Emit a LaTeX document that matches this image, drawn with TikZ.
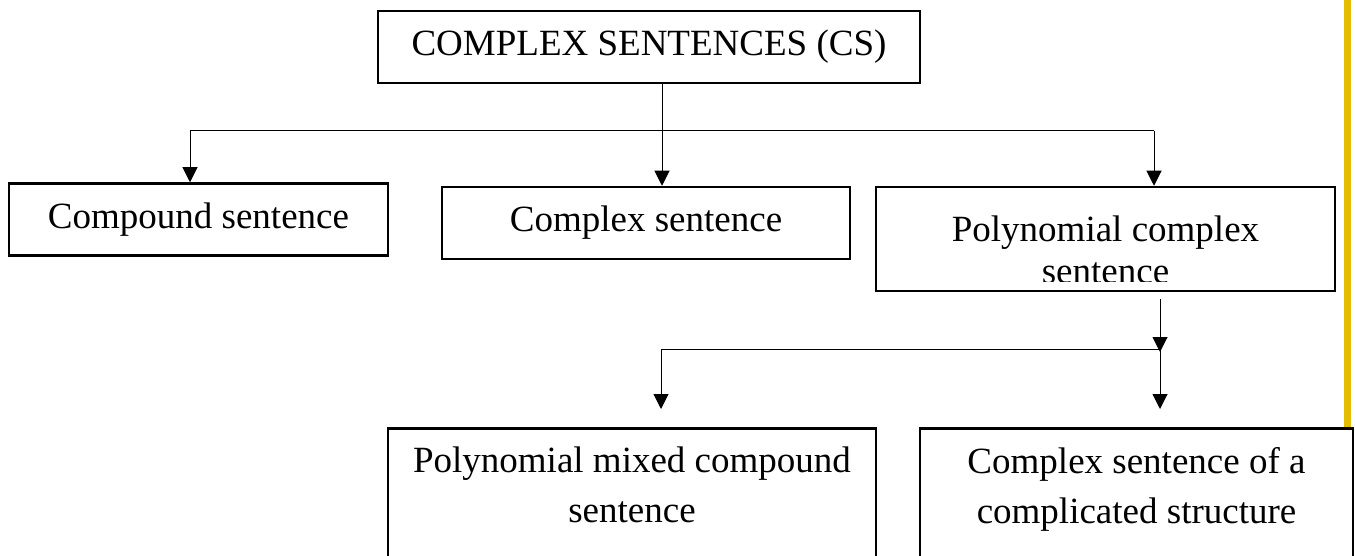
\documentclass[tikz,border=0pt]{standalone}
\usepackage{fontspec}
\setmainfont{Liberation Serif}
\usetikzlibrary{arrows.meta,positioning}
\definecolor{margingold}{RGB}{226,189,0}

\begin{document}
\begin{tikzpicture}[x=1pt,y=-1pt,
    box/.style={draw,line width=2.5pt,inner sep=0pt,minimum height=72pt,
      font=\fontsize{37}{50}\selectfont},
    words/.style={inner sep=0pt,align=center,font=\fontsize{37}{50}\selectfont},
    link/.style={line width=1pt},
    arr/.style={line width=1pt,-{Triangle[length=15pt,width=15pt]}}]
  \clip (0,0) rectangle (1355,556);
  % margin bar
  \fill[margingold] (1344,0) rectangle (1351,427);
  % boxes
  \node[box,minimum width=542pt] (cs) at (649,47) {COMPLEX SENTENCES (CS)};
  \node[box,minimum width=379pt] (compound) at (198.5,219.5) {Compound sentence};
  \node[box,minimum width=408pt] (complex) at (646,223) {Complex sentence};
  \node[box,minimum width=459pt,minimum height=104pt] (poly) at (1105.5,239) {};
  \node[box,minimum width=488pt,minimum height=200pt,anchor=north] (mixed) at (632,427) {};
  \node[box,minimum width=433pt,minimum height=200pt,anchor=north] (struct) at (1136.5,427) {};
  % texts of the two-line boxes
  \begin{scope}
    \clip (876,187) rectangle (1335,281);
    \node[words,font=\fontsize{37}{42}\selectfont,below=30pt of poly.north] (polytext) {Polynomial complex\\sentence};
  \end{scope}
  \node[words,below=20pt of mixed.north] (mixedtext) {Polynomial mixed compound\\sentence};
  \node[words,below=20pt of struct.north] (structtext) {Complex sentence of a\\complicated structure};
  % first fork
  \coordinate (fork1) at (662,131);
  \coordinate (fork1l) at (190,131);
  \coordinate (fork1r) at (1154,131);
  \draw[link] (cs.south -| fork1) -- (fork1);
  \draw[link] (fork1l) -- (fork1r);
  \draw[arr] (fork1l) -- (fork1l |- compound.north);
  \draw[arr] (fork1) -- (fork1 |- complex.north);
  \draw[arr] (fork1r) -- (fork1r |- poly.north);
  % second fork
  \coordinate (fork2) at (1160,349);
  \coordinate (fork2l) at (661,349);
  \draw[arr,shorten <=7pt] (poly.south -| fork2) -- ([yshift=-3pt]fork2);
  \draw[link] (fork2l) -- (fork2);
  \draw[arr,shorten >=18pt] (fork2l) -- (fork2l |- mixed.north);
  \draw[arr,shorten >=18pt] (fork2) -- (fork2 |- struct.north);
\end{tikzpicture}
\end{document}
